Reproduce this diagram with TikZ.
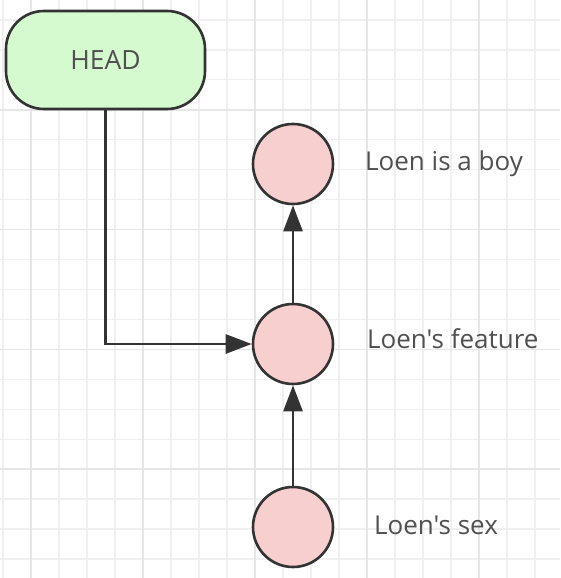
\documentclass[tikz,border=0pt]{standalone}
\usepackage{fontspec}
\setmainfont{Open Sans}[Ligatures=TeXOff]
\usetikzlibrary{arrows.meta}
\definecolor{gridc}{HTML}{F0F0F0}
\definecolor{gridd}{HTML}{E6E6E6}
\definecolor{linec}{HTML}{333333}
\definecolor{headfill}{HTML}{D5FAD0}
\definecolor{circfill}{HTML}{F6CFCE}
\definecolor{textc}{HTML}{505050}
\tikzset{
  gridline/.style={draw=gridc, line width=1.2pt},
  gridstrong/.style={draw=gridd, line width=1.6pt},
  headbox/.style={draw=linec, fill=headfill, line width=2.6pt, rounded corners=38pt,
    minimum width=199pt, minimum height=98pt, inner sep=0pt, text=textc,
    font=\fontsize{26.5}{30}\selectfont},
  circ/.style={circle, draw=linec, fill=circfill, line width=2.6pt, minimum size=80pt, inner sep=0pt},
  lbl/.style={text=textc, font=\fontsize{26}{30}\selectfont, inner sep=0pt},
  conn/.style={draw=linec, line width=2.6pt, -{Triangle[length=26pt,width=19pt]}},
}
\begin{document}
\begin{tikzpicture}[x=1pt,y=-1pt]
\useasboundingbox (0,0) rectangle (560,578);
\fill[white] (0,0) rectangle (560,578);
% grid
\foreach \i in {0,...,19} {\draw[gridline] ({3+28*\i},0) -- ({3+28*\i},578);}
\foreach \k in {0,...,18} {\draw[gridline] (0,{20+29.94*\k}) -- (560,{20+29.94*\k});}
\foreach \i in {1,5,9,13,17} {\draw[gridstrong] ({3+28*\i},0) -- ({3+28*\i},578);}
\foreach \k in {3,7,11,15} {\draw[gridstrong] (0,{20+29.94*\k}) -- (560,{20+29.94*\k});}
% nodes
\node[headbox] (head) at (105.5,60) {HEAD};
\node[circ] (c1) at (293,164) {};
\node[circ] (c2) at (293,344) {};
\node[circ] (c3) at (293,527) {};
\node[lbl, anchor=west] (l1) at (365,164) {Loen is a boy};
\node[lbl, anchor=west] (l2) at (367,339) {Loen's feature};
\node[lbl, anchor=west] (l3) at (374,525) {Loen's sex};
% connectors
\draw[conn] (head.south) |- (c2.west);
\draw[conn] (c2.north) -- (c1.south);
\draw[conn] (c3.north) -- (c2.south);
\end{tikzpicture}
\end{document}
